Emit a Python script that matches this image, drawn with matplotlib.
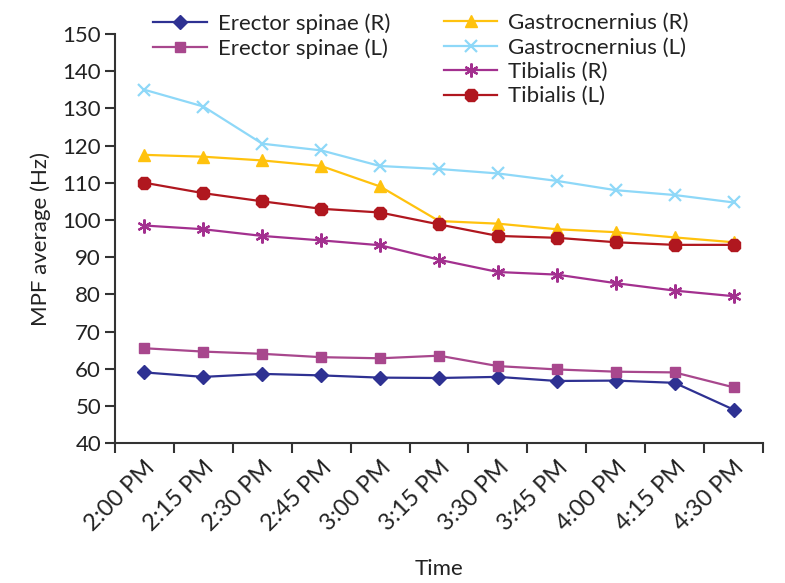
import matplotlib
matplotlib.use("Agg")
import matplotlib.pyplot as plt
import numpy as np

plt.rcParams['font.family'] = ['Lato', 'DejaVu Sans']

times = ["2:00 PM", "2:15 PM", "2:30 PM", "2:45 PM", "3:00 PM", "3:15 PM",
         "3:30 PM", "3:45 PM", "4:00 PM", "4:15 PM", "4:30 PM"]

erector_r = [59.0, 57.8, 58.6, 58.2, 57.6, 57.5, 57.8, 56.7, 56.8, 56.2, 49.0]
erector_l = [65.5, 64.6, 64.0, 63.1, 62.8, 63.5, 60.7, 59.8, 59.2, 59.0, 55.0]
gastro_r = [117.5, 117.0, 116.0, 114.5, 109.0, 99.7, 99.0, 97.5, 96.7, 95.3, 94.0]
gastro_l = [135.0, 130.5, 120.5, 118.7, 114.5, 113.7, 112.5, 110.5, 108.0, 106.7, 104.7]
tibialis_r = [98.5, 97.5, 95.7, 94.5, 93.2, 89.3, 86.0, 85.3, 83.0, 81.0, 79.5]
tibialis_l = [110.0, 107.2, 105.0, 103.0, 102.0, 98.8, 95.7, 95.2, 94.0, 93.3, 93.3]

fig = plt.figure(figsize=(7.85, 5.83), dpi=100)
ax = fig.add_axes([0.1465, 0.240, 0.8255, 0.7017])

x = np.arange(len(times))
lw = 1.6
fs = 16

h1, = ax.plot(x, erector_r, '-', color='#2E3192', marker='D', ms=7, lw=lw, label='Erector spinae (R)')
h2, = ax.plot(x, erector_l, '-', color='#A8478D', marker='s', ms=7, lw=lw, label='Erector spinae (L)')
h3, = ax.plot(x, gastro_r, '-', color='#FFC20E', marker='^', ms=9, lw=lw, label='Gastrocnernius (R)')
h4, = ax.plot(x, gastro_l, '-', color='#8ED8F8', marker='x', ms=9, mew=1.6, lw=lw, label='Gastrocnernius (L)')
h5, = ax.plot(x, tibialis_r, '-', color='#A3308F', marker=(6, 2, 0), ms=10, mew=1.6, lw=lw, label='Tibialis (R)')
h6, = ax.plot(x, tibialis_l, '-', color='#B0171F', marker='8', ms=10, lw=lw, label='Tibialis (L)')

ax.set_xlim(-0.5, len(times) - 0.5)
ax.set_ylim(40, 150)
ax.set_yticks(np.arange(40, 151, 10))
ax.set_xticks(x)
ax.set_xticklabels(times, rotation=45, ha='right', rotation_mode='anchor', fontsize=17, color='#222222')
ax.set_xticks(np.arange(-0.5, len(times)), minor=True)
ax.tick_params(axis='x', which='major', length=0, pad=10)
ax.tick_params(axis='x', which='minor', length=7, width=1.5, direction='out', color='#333333')
ax.tick_params(axis='y', length=7, width=1.5, direction='out', labelsize=fs,
               labelcolor='#222222', color='#333333', pad=3)

for s in ['top', 'right']:
    ax.spines[s].set_visible(False)
for s in ['left', 'bottom']:
    ax.spines[s].set_linewidth(1.5)
    ax.spines[s].set_color('#333333')

ax.set_ylabel('MPF average (Hz)', fontsize=fs, color='#222222', labelpad=8)
ax.set_xlabel('Time', fontsize=fs, color='#222222', labelpad=17)

leg1 = fig.legend(handles=[h1, h2], loc='upper left', bbox_to_anchor=(0.17, 1.012),
                  frameon=False, fontsize=fs, handlelength=2.4, labelspacing=0.2,
                  handletextpad=0.5)
leg2 = fig.legend(handles=[h3, h4, h5, h6], loc='upper left', bbox_to_anchor=(0.54, 1.012),
                  frameon=False, fontsize=fs, handlelength=2.4, labelspacing=0.2,
                  handletextpad=0.5)
for leg in (leg1, leg2):
    for t in leg.get_texts():
        t.set_color('#222222')

fig.savefig('out.png', dpi=100)
